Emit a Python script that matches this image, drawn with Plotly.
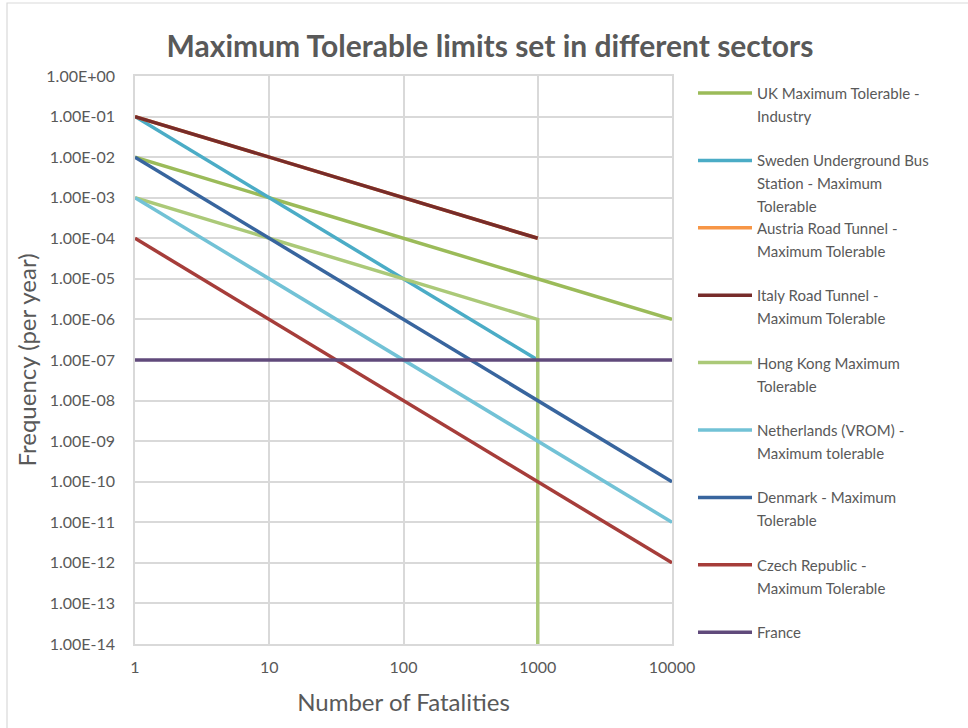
import plotly.graph_objects as go

# Frequency criteria (per year) against number of fatalities
series_names = [
    "UK Maximum Tolerable -<br>Industry",
    "Sweden Underground Bus<br>Station - Maximum<br>Tolerable",
    "Austria Road Tunnel -<br>Maximum Tolerable",
    "Italy Road Tunnel -<br>Maximum Tolerable",
    "Hong Kong Maximum<br>Tolerable",
    "Netherlands (VROM) -<br>Maximum tolerable",
    "Denmark - Maximum<br>Tolerable",
    "Czech Republic -<br>Maximum Tolerable",
    "France",
]

uk_x = [1, 10, 100, 1000, 10000]
uk_y = [1e-2, 1e-3, 1e-4, 1e-5, 1e-6]

sweden_x = [1, 10, 100, 1000]
sweden_y = [1e-1, 1e-3, 1e-5, 1e-7]

austria_x = [1, 10, 100, 1000]
austria_y = [1e-1, 1e-2, 1e-3, 1e-4]

italy_x = [1, 10, 100, 1000]
italy_y = [1e-1, 1e-2, 1e-3, 1e-4]

hongkong_x = [1, 10, 100, 1000, 1000]
hongkong_y = [1e-3, 1e-4, 1e-5, 1e-6, 1e-14]

netherlands_x = [1, 10, 100, 1000, 10000]
netherlands_y = [1e-3, 1e-5, 1e-7, 1e-9, 1e-11]

denmark_x = [1, 10, 100, 1000, 10000]
denmark_y = [1e-2, 1e-4, 1e-6, 1e-8, 1e-10]

czech_x = [1, 10, 100, 1000, 10000]
czech_y = [1e-4, 1e-6, 1e-8, 1e-10, 1e-12]

france_x = [1, 10, 100, 1000, 10000]
france_y = [1e-7, 1e-7, 1e-7, 1e-7, 1e-7]

x_ticks = [1, 10, 100, 1000, 10000]
y_tick_exponents = list(range(0, -15, -1))

colors = ["#9BBB59", "#4BACC6", "#F79646", "#772C2A", "#ABC978",
          "#72C2D6", "#38659E", "#A63D3A", "#604A7B"]

xs = [uk_x, sweden_x, austria_x, italy_x, hongkong_x,
      netherlands_x, denmark_x, czech_x, france_x]
ys = [uk_y, sweden_y, austria_y, italy_y, hongkong_y,
      netherlands_y, denmark_y, czech_y, france_y]

FONT = "Lato, 'Open Sans', sans-serif"
GREY = "#595959"
GRID = "#D9D9D9"

# plot-area geometry in pixels (used to place the side key in paper units)
W, H = 968, 728
L, R, T, B = 135, 296, 76, 84
PW, PH = W - L - R, H - T - B


def px_x(px):
    return (px - L) / PW


def px_y(py):
    return (H - B - py) / PH


fig = go.Figure()
for name, x, y, c in zip(series_names, xs, ys, colors):
    fig.add_trace(go.Scatter(
        x=x, y=y, mode="lines", name=name.replace("<br>", " "),
        line=dict(color=c, width=3.5), showlegend=False,
    ))

# side key: one coloured line and wrapped label per series
key_top, key_step, line_step = 93, 67.4, 23
for i, (name, c) in enumerate(zip(series_names, colors)):
    yc = key_top + i * key_step
    fig.add_shape(
        type="line", xref="paper", yref="paper",
        x0=px_x(698), x1=px_x(752), y0=px_y(yc), y1=px_y(yc),
        line=dict(color=c, width=3.5),
    )
    for j, part in enumerate(name.split("<br>")):
        fig.add_annotation(
            xref="paper", yref="paper",
            x=px_x(755), y=px_y(yc + j * line_step),
            xanchor="left", yanchor="middle", showarrow=False,
            text=part, font=dict(size=15, color=GREY, family=FONT),
        )

fig.update_layout(
    width=W, height=H,
    margin=dict(l=L, r=R, t=T, b=B),
    paper_bgcolor="white", plot_bgcolor="white",
    font=dict(family=FONT, color=GREY),
    title=dict(
        text="<b>Maximum Tolerable limits set in different sectors</b>",
        x=490 / W, xanchor="center", y=1 - 46 / H, yanchor="middle",
        font=dict(size=30, color=GREY, family=FONT),
    ),
    showlegend=False,
)

fig.update_xaxes(
    type="log", range=[0, 4],
    tickvals=x_ticks, ticktext=[str(v) for v in x_ticks],
    showgrid=True, gridcolor=GRID, gridwidth=1.5,
    showline=True, linecolor=GRID, linewidth=1.5, mirror=True,
    ticks="", zeroline=False, ticklabelstandoff=8,
    tickfont=dict(size=16, color=GREY),
    title=dict(text="Number of Fatalities", font=dict(size=24, color=GREY), standoff=19),
)
fig.update_yaxes(
    type="log", range=[-14, 0],
    tickvals=[10.0 ** e for e in y_tick_exponents],
    ticktext=[f"1.00E{'+' if e >= 0 else '-'}{abs(e):02d}" for e in y_tick_exponents],
    showgrid=True, gridcolor=GRID, gridwidth=1.5,
    showline=True, linecolor=GRID, linewidth=1.5, mirror=True,
    ticks="", zeroline=False, ticklabelstandoff=15,
    tickfont=dict(size=16, color=GREY),
    title=dict(text="Frequency (per year)", font=dict(size=24, color=GREY), standoff=3),
)

# light frame around the whole chart area
fig.add_shape(
    type="rect", xref="paper", yref="paper",
    x0=px_x(7), x1=px_x(975), y0=px_y(740), y1=px_y(3),
    line=dict(color=GRID, width=1.2), layer="below",
)

fig.write_html("out.html")
